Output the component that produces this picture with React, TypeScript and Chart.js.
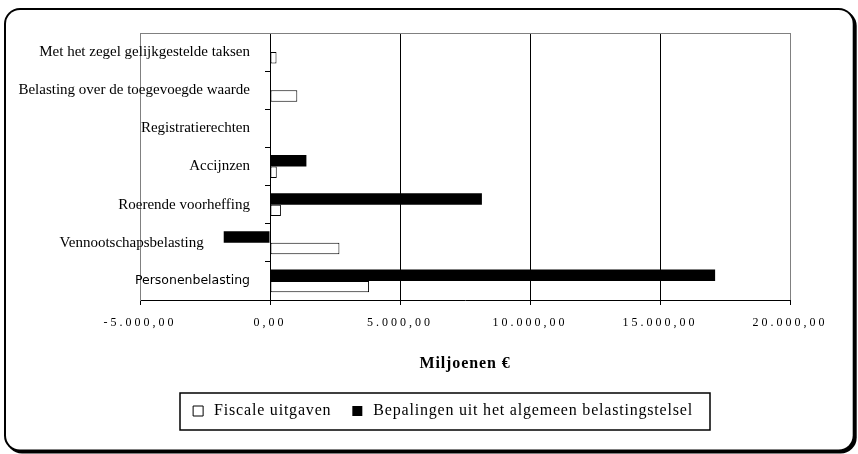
import React, { useEffect, useRef } from 'react';
import { Chart, registerables } from 'chart.js';

Chart.register(...registerables);

const categories = [
  'Met het zegel gelijkgestelde taksen',
  'Belasting over de toegevoegde waarde',
  'Registratierechten',
  'Accijnzen',
  'Roerende voorheffing',
  'Vennootschapsbelasting',
  'Personenbelasting',
];
const seriesNames = ['Fiscale uitgaven', 'Bepalingen uit het algemeen belastingstelsel'];
const fiscaleUitgaven = [250, 1050, 0, 260, 420, 2670, 3810];
const bepalingen = [0, 0, 0, 1400, 8150, -1780, 17120];
const xTickValues = [-5000, 0, 5000, 10000, 15000, 20000];
const axisTitle = 'Miljoenen €';

const SERIF = "'Liberation Serif', 'Times New Roman', serif";
const SANS = "'DejaVu Sans', sans-serif";
const Y_FONT_SIZE = 15;
const Y_SANS_SIZE = 12.5;
const LABEL_GAP = 20;

function formatNl(v: number): string {
  const neg = v < 0;
  const abs = Math.abs(v);
  const ip = Math.floor(abs);
  const intPart = ip.toString().replace(/\B(?=(\d{3})+(?!\d))/g, '.');
  const dec = Math.round((abs - ip) * 100).toString().padStart(2, '0');
  return (neg ? '-' : '') + intPart + ',' + dec;
}

function withSpacing(ctx: any, sp: string, fn: () => any) {
  const old = ctx.letterSpacing;
  ctx.letterSpacing = sp;
  const r = fn();
  ctx.letterSpacing = old || '0px';
  return r;
}

function yFont(i: number) {
  return i === categories.length - 1
    ? { family: SANS, size: Y_SANS_SIZE }
    : { family: SERIF, size: Y_FONT_SIZE };
}

const decor = {
  id: 'decor',
  afterInit(chart: any) {
    const lg: any = chart.legend;
    if (lg && !lg.__w) {
      lg.__w = true;
      const fit = lg.fit.bind(lg);
      const draw = lg.draw.bind(lg);
      lg.fit = () => withSpacing(chart.ctx, '0.8px', fit);
      lg.draw = (...a: any[]) => withSpacing(chart.ctx, '0.8px', () => draw(...a));
    }
  },
  beforeDraw(chart: any) {
    const ctx = chart.ctx;
    ctx.save();
    ctx.fillStyle = '#000';
    ctx.beginPath();
    ctx.roundRect(6, 10, 850.7, 443.5, 16);
    ctx.fill();
    ctx.beginPath();
    ctx.roundRect(4, 8, 850.7, 443.5, 16);
    ctx.fill();
    ctx.fillStyle = '#fff';
    ctx.beginPath();
    ctx.roundRect(6, 10, 846.7, 439.5, 14);
    ctx.fill();
    ctx.restore();

    const x: any = chart.scales.x;
    if (x && !x.__w) {
      x.__w = true;
      const dl = x.drawLabels.bind(x);
      const dt = x.drawTitle.bind(x);
      x.drawLabels = (...a: any[]) => withSpacing(ctx, '3px', () => dl(...a));
      x.drawTitle = (...a: any[]) => withSpacing(ctx, '0.9px', () => dt(...a));
    }

    // category labels sit left of the lowest bar end (zero or a negative bar)
    const y: any = chart.scales.y;
    if (y && !y.__w) {
      y.__w = true;
      const orig = y._computeLabelItems.bind(y);
      y._computeLabelItems = (ca: any) => {
        const items = orig(ca);
        const xs: any = chart.scales.x;
        items.forEach((it: any, i: number) => {
          let lo = 0;
          chart.data.datasets.forEach((ds: any) => {
            const v = Number(ds.data[i]);
            if (isFinite(v) && v < lo) lo = v;
          });
          const target = xs.getPixelForValue(lo) - LABEL_GAP;
          const tr = it.options.translation;
          it.options.translation = [Math.min(tr[0], target), tr[1]];
        });
        return items;
      };
      y._labelItems = null;
    }
  },
  beforeDatasetsDraw(chart: any) {
    const { ctx, chartArea } = chart;
    ctx.save();
    ctx.strokeStyle = '#808080';
    ctx.lineWidth = 1;
    ctx.beginPath();
    ctx.moveTo(chartArea.left, Math.round(chartArea.top) + 0.5);
    ctx.lineTo(chartArea.right, Math.round(chartArea.top) + 0.5);
    ctx.stroke();
    ctx.restore();
  },
  afterDraw(chart: any) {
    const lg: any = chart.legend;
    const hb = lg && lg.legendHitBoxes;
    if (!hb || !hb.length) return;
    const ctx = chart.ctx;
    const first = hb[0];
    const last = hb[hb.length - 1];
    const left = first.left - 10;
    const right = last.left + last.width + 17;
    const cy = first.top + first.height / 2;
    ctx.save();
    ctx.strokeStyle = '#000';
    ctx.lineWidth = 1.5;
    ctx.strokeRect(Math.round(left), Math.round(cy - 18), Math.round(right - left), 37);
    ctx.restore();
  },
};

export default function App() {
  const ref = useRef<HTMLCanvasElement | null>(null);

  useEffect(() => {
    document.body.style.margin = '0';
    const canvas = ref.current;
    if (!canvas) return;
    Chart.defaults.font.family = SERIF;
    Chart.defaults.color = '#000';

    // widest y label, used to right-align the labels 20px left of the zero line
    const mctx = document.createElement('canvas').getContext('2d') as CanvasRenderingContext2D;
    let widest = 0;
    categories.forEach((c, i) => {
      const f = yFont(i);
      mctx.font = `normal ${f.size}px ${f.family}`;
      widest = Math.max(widest, mctx.measureText(c).width);
    });
    const yPad = 130 - LABEL_GAP - widest;

    const chart = new Chart(canvas, {
      type: 'bar',
      data: {
        labels: categories,
        datasets: [
          {
            label: seriesNames[0],
            data: fiscaleUitgaven,
            backgroundColor: '#ffffff',
            borderColor: '#000000',
            borderWidth: 1,
            borderSkipped: false,
            order: 1,
          },
          {
            label: seriesNames[1],
            data: bepalingen,
            backgroundColor: '#000000',
            borderColor: '#000000',
            borderWidth: 0,
            order: 0,
          },
        ],
      },
      options: {
        indexAxis: 'y',
        responsive: false,
        animation: false,
        devicePixelRatio: 1,
        events: [],
        layout: { padding: { left: 93, right: 68, top: 33, bottom: 25 } },
        datasets: {
          bar: { categoryPercentage: 0.6, barPercentage: 1.0 },
        },
        scales: {
          x: {
            type: 'linear',
            position: 'bottom',
            min: xTickValues[0],
            max: xTickValues[xTickValues.length - 1],
            afterBuildTicks: (s: any) => {
              s.ticks = xTickValues.map((v) => ({ value: v }));
            },
            afterFit: (s: any) => {
              s.height = 85;
            },
            ticks: {
              callback: (v: any) => formatNl(Number(v)),
              font: { size: 12 },
              color: '#000',
              padding: 11,
              maxRotation: 0,
              autoSkip: false,
            },
            grid: {
              color: (c: any) =>
                c.tick && (c.tick.value === xTickValues[0] || c.tick.value === xTickValues[xTickValues.length - 1])
                  ? '#808080'
                  : '#000000',
              tickColor: '#000000',
              tickLength: 5,
              lineWidth: 1,
            },
            border: { display: true, color: '#000000', width: 1 },
            title: {
              display: true,
              text: axisTitle,
              color: '#000',
              font: { size: 16, weight: 'bold' },
              padding: { top: 0, bottom: 12 },
            },
          },
          y: {
            type: 'category',
            position: 'left',
            offset: true,
            afterFit: (s: any) => {
              s.width = 47;
            },
            grid: { display: false },
            border: { display: true, color: '#808080', width: 1 },
            ticks: {
              autoSkip: false,
              mirror: true,
              crossAlign: 'far',
              padding: yPad,
              color: '#000',
              font: (c: any) => yFont(c.index),
            },
          },
          y2: {
            type: 'category',
            axis: 'y',
            position: { x: 0 },
            offset: true,
            grid: {
              offset: true,
              drawOnChartArea: false,
              drawTicks: true,
              tickLength: 5,
              color: '#000000',
              tickColor: '#000000',
            },
            border: { display: true, color: '#000000', width: 1 },
            ticks: { display: false },
          },
        },
        plugins: {
          tooltip: { enabled: false },
          title: { display: false },
          legend: {
            display: true,
            position: 'bottom',
            labels: {
              boxWidth: 16,
              boxHeight: 10,
              usePointStyle: true,
              pointStyle: 'rect',
              padding: 18,
              color: '#000',
              font: { size: 16 },
              sort: (a: any, b: any) => a.datasetIndex - b.datasetIndex,
            },
          },
        },
      } as any,
      plugins: [decor as any],
    });
    chart.update();

    return () => {
      chart.destroy();
    };
  }, []);

  return (
    <div style={{ width: 858, height: 454, position: 'relative' }}>
      <canvas ref={ref} width={858} height={454} style={{ display: 'block', width: 858, height: 454 }} />
    </div>
  );
}
